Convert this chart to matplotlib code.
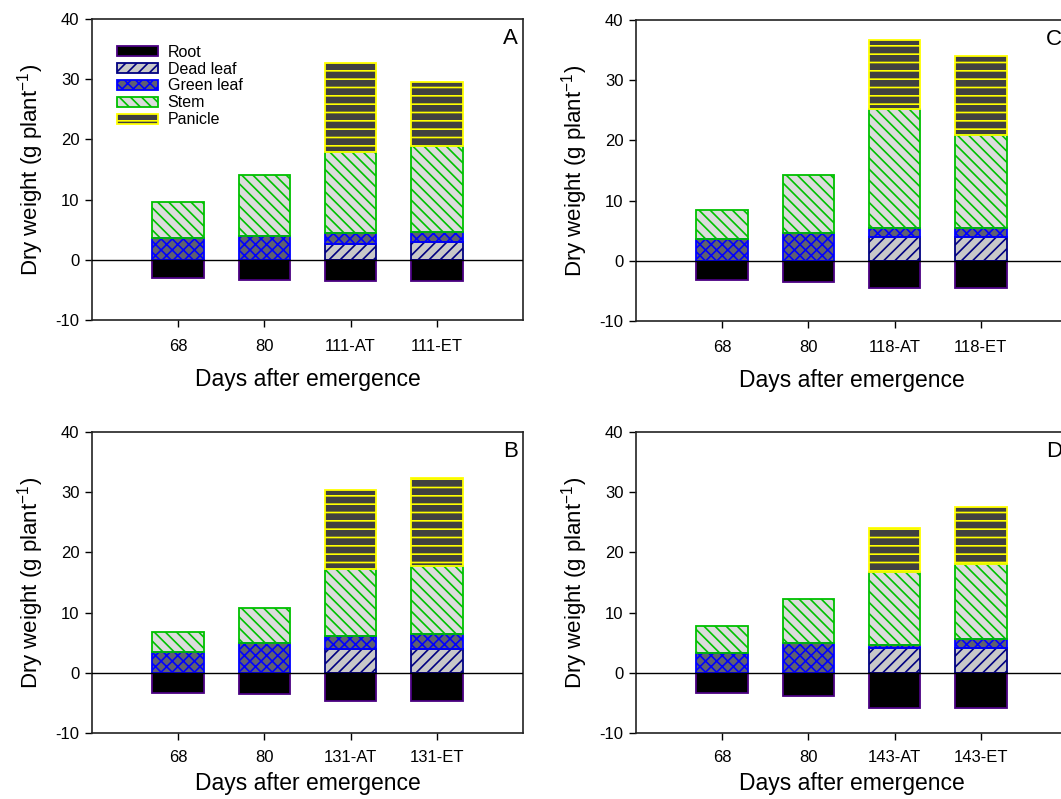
import matplotlib
matplotlib.use("Agg")
import matplotlib.pyplot as plt
from matplotlib.patches import Patch
from matplotlib.legend_handler import HandlerTuple
import numpy as np

plt.rcParams['font.family'] = ['Liberation Sans', 'DejaVu Sans']
plt.rcParams['hatch.linewidth'] = 1.2
plt.rcParams['axes.unicode_minus'] = False
plt.rcParams['mathtext.default'] = 'regular'

components = ["Root", "Dead leaf", "Green leaf", "Stem", "Panicle"]

labels_A = ["68", "80", "111-AT", "111-ET"]
root_A = [-3.0, -3.3, -3.5, -3.5]
dead_A = [0.0, 0.0, 2.7, 2.9]
green_A = [3.6, 3.95, 1.7, 1.65]
stem_A = [6.05, 10.1, 13.5, 14.35]
panicle_A = [0.0, 0.0, 14.8, 10.6]

labels_B = ["68", "80", "131-AT", "131-ET"]
root_B = [-3.3, -3.5, -4.7, -4.7]
dead_B = [0.0, 0.0, 3.95, 3.95]
green_B = [3.4, 4.9, 2.1, 2.5]
stem_B = [3.3, 5.8, 11.15, 11.25]
panicle_B = [0.0, 0.0, 13.1, 14.6]

labels_C = ["68", "80", "118-AT", "118-ET"]
root_C = [-3.2, -3.6, -4.55, -4.55]
dead_C = [0.0, 0.0, 3.9, 3.9]
green_C = [3.7, 4.7, 1.6, 1.6]
stem_C = [4.75, 9.5, 19.7, 15.4]
panicle_C = [0.0, 0.0, 11.5, 13.1]

labels_D = ["68", "80", "143-AT", "143-ET"]
root_D = [-3.35, -3.9, -5.9, -5.9]
dead_D = [0.0, 0.0, 4.05, 4.05]
green_D = [3.35, 5.0, 0.65, 1.55]
stem_D = [4.35, 7.3, 12.0, 12.5]
panicle_D = [0.0, 0.0, 7.4, 9.4]

panels = {
    "A": (labels_A, root_A, dead_A, green_A, stem_A, panicle_A),
    "B": (labels_B, root_B, dead_B, green_B, stem_B, panicle_B),
    "C": (labels_C, root_C, dead_C, green_C, stem_C, panicle_C),
    "D": (labels_D, root_D, dead_D, green_D, stem_D, panicle_D),
}

# style per component: facecolor, hatch, hatchcolor, edgecolor
styles = {
    "Root": dict(fc="black", hatch=None, hc="black", ec="#4b0082"),
    "Dead leaf": dict(fc="#c8c8c8", hatch="///", hc="#000080", ec="#000080"),
    "Green leaf": dict(fc="#606070", hatch="xxx", hc="#0000ff", ec="#0000ff"),
    "Stem": dict(fc="#dcdcdc", hatch="\\\\\\", hc="#00c000", ec="#00c000"),
    "Panicle": dict(fc="#404040", hatch="--", hc="#ffff00", ec="#ffff00"),
}

W, H = 1061, 799
fig = plt.figure(figsize=(W / 100, H / 100), dpi=100)

def fx(px):
    return px / W

def fy(py):
    return 1 - py / H

ax_w = 431 / W
ax_h = 301 / H
positions = {
    "A": (fx(92), fy(320)),
    "B": (fx(92), fy(733)),
    "C": (fx(636), fy(321)),
    "D": (fx(636), fy(733)),
}
xlabel_pads = {"A": 10, "B": 5, "C": 10, "D": 5}
xtick_pads = {"A": 9, "B": 7, "C": 9, "D": 7}

width = 0.6

def draw_component(ax, x, bottom, height, st):
    ax.bar(x, height, width, bottom=bottom, color=st["fc"], hatch=st["hatch"],
           edgecolor=st["hc"], linewidth=0, zorder=2)
    ax.bar(x, height, width, bottom=bottom, facecolor="none",
           edgecolor=st["ec"], linewidth=1.3, zorder=3)

for name, (labels, root, dead, green, stem, panicle) in panels.items():
    left, bot = positions[name]
    ax = fig.add_axes([left, bot, ax_w, ax_h])
    x = np.arange(1, len(labels) + 1)
    root = np.array(root)
    dead = np.array(dead)
    green = np.array(green)
    stem = np.array(stem)
    panicle = np.array(panicle)

    draw_component(ax, x, np.zeros_like(root), root, styles["Root"])
    base = np.zeros_like(root)
    for comp, vals in (("Dead leaf", dead), ("Green leaf", green),
                       ("Stem", stem), ("Panicle", panicle)):
        mask = vals > 0
        if mask.any():
            draw_component(ax, x[mask], base[mask], vals[mask], styles[comp])
        base = base + vals

    ax.axhline(0, color="black", linewidth=1.0, zorder=4)
    ax.set_xlim(0, 5)
    ax.set_ylim(-10, 40)
    ax.set_yticks([-10, 0, 10, 20, 30, 40])
    ax.set_xticks(x)
    ax.set_xticklabels(labels)
    ax.tick_params(axis="both", direction="out", length=5, width=1,
                   labelsize=12, pad=4, top=False, right=False)
    ax.tick_params(axis="x", pad=xtick_pads[name])
    for sp in ax.spines.values():
        sp.set_linewidth(1.2)
        sp.set_color("#222222")
    ax.set_xlabel("Days after emergence", fontsize=16.5, labelpad=xlabel_pads[name])
    ax.set_ylabel("Dry weight (g plant$^{-1}$)", fontsize=16, labelpad=7)
    ax.text(0.988, 0.97, name, transform=ax.transAxes, ha="right", va="top",
            fontsize=16)

    if name == "A":
        handles = []
        for comp in components:
            st = styles[comp]
            p1 = Patch(facecolor=st["fc"], hatch=st["hatch"], edgecolor=st["hc"],
                       linewidth=0)
            p2 = Patch(facecolor="none", edgecolor=st["ec"], linewidth=1.3)
            handles.append((p1, p2))
        ax.legend(handles, components, handler_map={tuple: HandlerTuple(ndivide=1, pad=0)},
                  loc="upper left", bbox_to_anchor=(0.057, 0.915), frameon=False,
                  fontsize=11.5, labelspacing=0.12, handlelength=2.6,
                  handleheight=0.6, handletextpad=0.6, borderpad=0, borderaxespad=0)

fig.savefig("out.png", dpi=100)
